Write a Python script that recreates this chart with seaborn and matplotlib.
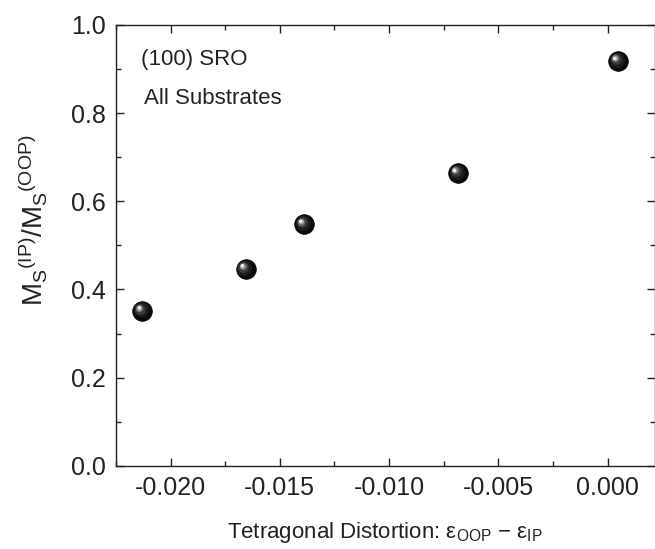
import matplotlib
matplotlib.use("Agg")
import matplotlib.pyplot as plt
import matplotlib.transforms as mtransforms
from matplotlib.ticker import MultipleLocator, FormatStrFormatter
import seaborn as sns
import pandas as pd

# data
distortion = [-0.02129, -0.01657, -0.01389, -0.00686, 0.00048]
ms_ratio = [0.352, 0.447, 0.548, 0.664, 0.918]

sns.set_theme(style="ticks")
plt.rcParams["font.family"] = ["Liberation Sans", "DejaVu Sans"]
plt.rcParams["mathtext.fontset"] = "custom"
plt.rcParams["mathtext.rm"] = "Liberation Sans"
plt.rcParams["mathtext.it"] = "Liberation Sans:italic"
plt.rcParams["mathtext.bf"] = "Liberation Sans:bold"

df = pd.DataFrame({"x": distortion, "y": ms_ratio})

fig = plt.figure(figsize=(6.55, 5.49), dpi=100)
ax = fig.add_axes([0.177, 0.1515, 0.823, 0.8033])

# spherical markers: dark base + lighter highlights offset up-left
sns.scatterplot(data=df, x="x", y="y", ax=ax, s=200, color="#0a0a0a",
                edgecolor="#000000", linewidth=0.5, zorder=3, legend=False)
layers = [(120, "#1c1c1c", -0.8, 0.8), (60, "#3a3a3a", -1.5, 1.4),
          (28, "#6e6e6e", -2.1, 1.9), (12, "#b5b5b5", -2.5, 2.2),
          (4, "#ffffff", -2.7, 2.4)]
for size, col, dx, dy in layers:
    tr = mtransforms.offset_copy(ax.transData, fig=fig, x=dx, y=dy, units="points")
    ax.scatter(df["x"], df["y"], s=size, color=col, linewidths=0,
               transform=tr, zorder=4)

ax.set_xlim(-0.0225, 0.00217)
ax.set_ylim(0.0, 1.0)
ax.xaxis.set_major_locator(MultipleLocator(0.005))
ax.xaxis.set_minor_locator(MultipleLocator(0.0025))
ax.yaxis.set_major_locator(MultipleLocator(0.2))
ax.yaxis.set_minor_locator(MultipleLocator(0.1))
ax.xaxis.set_major_formatter(FormatStrFormatter("%.3f"))
ax.yaxis.set_major_formatter(FormatStrFormatter("%.1f"))

ax.tick_params(which="both", direction="in", top=True, right=True,
               colors="#222222", width=1.0)
ax.tick_params(which="major", length=6, labelsize=18, pad=7)
ax.tick_params(which="minor", length=3.5)
for lbl in ax.get_xticklabels() + ax.get_yticklabels():
    lbl.set_color("#222222")
for sp in ax.spines.values():
    sp.set_color("#222222")
    sp.set_linewidth(1.0)

ax.set_xlabel("Tetragonal Distortion: ε$_{\\mathrm{OOP}}$ − ε$_{\\mathrm{IP}}$",
              fontsize=16, color="#222222")
ax.xaxis.set_label_coords(0.498, -0.122)
ax.xaxis.label.set_verticalalignment("top")
ax.set_ylabel(r"$\mathrm{{M_S}^{(IP)}/{M_S}^{(OOP)}}$", fontsize=20,
              color="#222222")
ax.yaxis.set_label_coords(-0.125, 0.557)

ax.text(0.046, 0.922, "(100) SRO", transform=ax.transAxes, fontsize=16,
        color="#222222", va="center", ha="left")
ax.text(0.052, 0.834, "All Substrates", transform=ax.transAxes, fontsize=16,
        color="#222222", va="center", ha="left")

fig.savefig("out.png", dpi=100)
